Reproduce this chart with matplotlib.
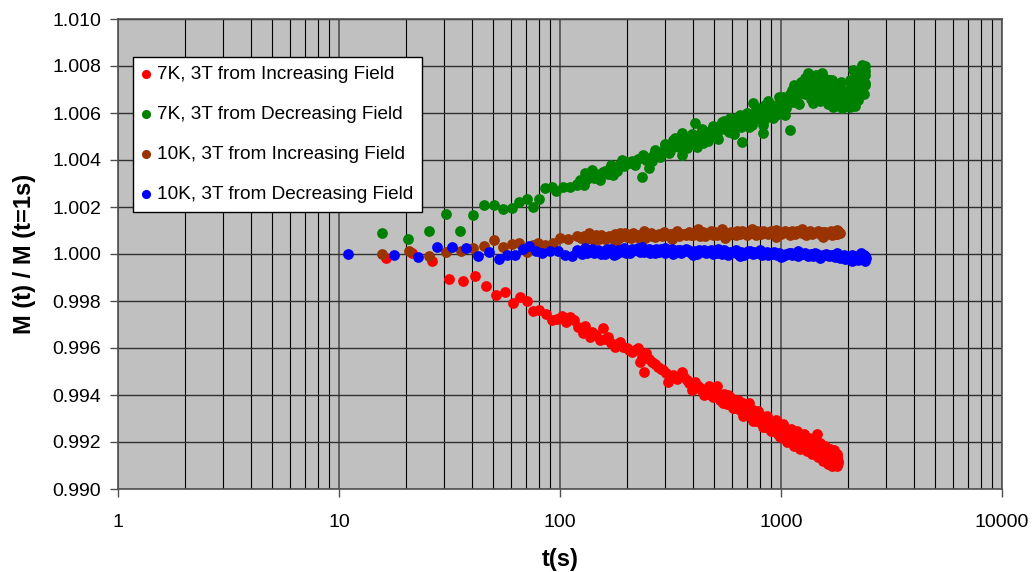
import matplotlib
matplotlib.use("Agg")
import matplotlib.pyplot as plt
from matplotlib.ticker import FixedLocator, LogLocator, NullFormatter, FuncFormatter

plt.rcParams['font.family'] = ['Liberation Sans', 'DejaVu Sans']

# ---------------- data ----------------
labels = ["7K, 3T from Increasing Field", "7K, 3T from Decreasing Field",
          "10K, 3T from Increasing Field", "10K, 3T from Decreasing Field"]
colors = ["#FF0000", "#008000", "#993300", "#0000FF"]

red_t = [16.4, 21.3, 26.4, 31.3, 36.3, 41.2, 46.3, 51.3, 56.4, 61.1, 65.9, 71.2, 75.7, 80.6,
         86.4, 91.7, 96.6, 101.8, 107, 111, 116, 121, 127, 130, 137, 139, 145, 152, 156, 160,
         165, 171, 177, 182, 187, 193, 200, 205, 211, 218, 226, 230, 235, 240, 245, 252, 260,
         268, 279, 286, 293, 301, 309, 317, 326, 340, 355, 365, 374, 385, 394, 408,
         420, 440, 460, 480, 500, 520, 540, 560, 580, 600, 620, 640, 660, 680, 700, 720, 740,
         760, 780, 800, 820, 840, 860, 880, 900, 920, 940, 960, 980, 1000, 1020, 1040, 1060,
         1080, 1100, 1120, 1140, 1160, 1180, 1200, 1220, 1240, 1280, 1300, 1320, 1340, 1360,
         1380, 1400, 1420, 1455, 1460, 1480, 1500, 1520, 1540, 1560, 1580, 1600, 1620, 1640,
         1660, 1680, 1700, 1720, 1740, 1760, 1780, 1800, 1810, 1700, 1650, 1760,
         430, 450, 470, 490, 510, 530, 550, 570, 590, 610, 630, 650, 670, 690, 710, 730, 750,
         770, 790, 810, 830, 850, 870, 890, 910, 930, 950, 970, 990, 1010, 1030, 1050, 1070,
         1090, 1110, 1130, 1150, 1170, 1190, 1210, 1230, 1250, 1270, 1290, 1310, 1330, 1350,
         1370, 1390, 1410, 1430, 1450, 1470, 1490, 1510, 1530, 1550, 1570, 1590, 1610, 1630,
         1650, 1670, 1690, 1710, 1730, 1750, 1770, 1790, 1805,
         515, 545, 575, 605, 640, 675, 715, 745, 785, 825, 865, 905, 945, 985, 1025, 1065,
         1105, 1145, 1185, 1225, 1265, 1305, 1345, 1385, 1425, 1465, 1505, 1545, 1585, 1625,
         1665, 1705, 1745, 1785, 1795]
red_m = [0.99984, 1.00003, 0.99970, 0.99895, 0.99886, 0.99906, 0.99865, 0.99826, 0.99840,
         0.99793, 0.99816, 0.99801, 0.99757, 0.99762, 0.99743, 0.99719, 0.99722, 0.99737,
         0.99712, 0.99730, 0.99719, 0.99691, 0.99663, 0.99694, 0.99648, 0.99669, 0.99655,
         0.99634, 0.99684, 0.99640, 0.99648, 0.99620, 0.99606, 0.99618, 0.99627, 0.99605,
         0.99599, 0.99590, 0.99584, 0.99592, 0.99599, 0.99542, 0.99560, 0.99499, 0.99577,
         0.99555, 0.99542, 0.99530, 0.99520, 0.99512, 0.99506, 0.99495, 0.99457, 0.99478,
         0.99485, 0.99470, 0.99499, 0.99475, 0.99464, 0.99450, 0.99421, 0.99457,
         0.99440, 0.99415, 0.99425, 0.99400, 0.99410, 0.99395, 0.99385, 0.99400, 0.99370,
         0.99375, 0.99360, 0.99350, 0.99355, 0.99335, 0.99340, 0.99320, 0.99330, 0.99310,
         0.99305, 0.99295, 0.99310, 0.99280, 0.99290, 0.99270, 0.99285, 0.99260, 0.99270,
         0.99250, 0.99265, 0.99245, 0.99255, 0.99240, 0.99250, 0.99225, 0.99240, 0.99220,
         0.99230, 0.99215, 0.99225, 0.99205, 0.99215, 0.99200, 0.99195, 0.99205, 0.99190,
         0.99200, 0.99175, 0.99190, 0.99170, 0.99185, 0.99234, 0.99165, 0.99175, 0.99160,
         0.99170, 0.99150, 0.99165, 0.99140, 0.99155, 0.99135, 0.99150, 0.99130, 0.99145,
         0.99120, 0.99140, 0.99115, 0.99135, 0.99125, 0.99140, 0.99120, 0.99110, 0.99125,
         0.99108,
         0.99430, 0.99400, 0.99440, 0.99390, 0.99420, 0.99380, 0.99405, 0.99360, 0.99390,
         0.99345, 0.99370, 0.99335, 0.99365, 0.99320, 0.99350, 0.99305, 0.99335, 0.99290,
         0.99320, 0.99280, 0.99300, 0.99265, 0.99295, 0.99255, 0.99275, 0.99245, 0.99280,
         0.99235, 0.99260, 0.99230, 0.99262, 0.99220, 0.99245, 0.99210, 0.99235, 0.99205,
         0.99240, 0.99195, 0.99228, 0.99190, 0.99222, 0.99180, 0.99212, 0.99178, 0.99210,
         0.99170, 0.99200, 0.99160, 0.99195, 0.99155, 0.99190, 0.99150, 0.99185, 0.99140,
         0.99180, 0.99135, 0.99172, 0.99125, 0.99165, 0.99120, 0.99160, 0.99112, 0.99155,
         0.99105, 0.99150, 0.99102, 0.99148, 0.99105, 0.99130, 0.99110,
         0.99440, 0.99365, 0.99400, 0.99345, 0.99380, 0.99312, 0.99365, 0.99290, 0.99330,
         0.99262, 0.99310, 0.99245, 0.99295, 0.99222, 0.99275, 0.99200, 0.99255, 0.99185,
         0.99245, 0.99172, 0.99235, 0.99160, 0.99215, 0.99150, 0.99205, 0.99135, 0.99195,
         0.99120, 0.99185, 0.99108, 0.99170, 0.99100, 0.99165, 0.99098, 0.99150]

green_t = [15.6, 20.6, 25.5, 30.5, 35.3, 40.5, 45.5, 50.5, 55.4, 60.5, 65.5, 70.7, 75.2, 80.3,
           85.5, 91.6, 95.9, 103, 111, 119, 123, 130, 139, 152, 157, 171, 174, 190, 207, 234,
           238, 254, 269, 283, 298, 326, 332, 355, 355, 408, 415, 445, 548, 588, 664, 750, 832,
           847, 1024, 1098, 1137, 1242, 1331, 1401, 1528, 1666, 1726, 1884, 2053, 2125, 2239,
           2318, 2399, 2125,
           120, 125, 128, 133, 136, 142, 146, 150, 155, 160, 165, 168, 178, 182, 186, 195, 200,
           212, 218, 225, 245, 250, 260, 265, 275, 290, 305, 312, 318, 340, 345, 362, 370, 380,
           390, 400, 420, 430, 452, 460, 470, 485, 495, 510, 520, 530, 560, 570, 600, 615, 630,
           645, 670, 690, 710, 730, 760, 780, 800, 820, 860, 880, 900, 930, 960, 990, 1050,
           1060, 1100, 1150, 1170, 1200, 1260, 1280, 1300, 1350, 1380, 1420, 1450, 1480, 1550,
           1580, 1620, 1680, 1700, 1750, 1800, 1850, 1900, 1950, 2000, 2050, 2100, 2150, 2180,
           2200, 2250, 2280, 2300, 2330, 2350, 2380, 2400, 2410,
           300, 315, 330, 350, 375, 395, 410, 440, 465, 490, 515, 540, 580, 620, 660, 700, 740,
           790, 840, 890, 950, 1000, 1030, 1080, 1120, 1180, 1230, 1320, 1400, 1460, 1520,
           1600, 1650, 1720, 1780, 1830, 1880, 1930, 1980, 2030, 2080, 2130, 2170, 2230, 2270,
           2320, 2360, 2390, 2405,
           520, 555, 610, 650, 720, 770, 830, 870, 920, 980, 1040, 1140, 1210, 1290, 1370,
           1440, 1500, 1560, 1640, 1700, 1760, 1860, 1960, 2060, 2160, 2260, 2340, 2380]
green_m = [1.00091, 1.00063, 1.00098, 1.00170, 1.00099, 1.00166, 1.00209, 1.00209, 1.00190,
           1.00197, 1.00223, 1.00233, 1.00199, 1.00234, 1.00280, 1.00284, 1.00269, 1.00284,
           1.00286, 1.00294, 1.00315, 1.00343, 1.00357, 1.00315, 1.00350, 1.00379, 1.00336,
           1.00400, 1.00386, 1.00329, 1.00421, 1.00365, 1.00443, 1.00414, 1.00464, 1.00485,
           1.00492, 1.00421, 1.00514, 1.00559, 1.00457, 1.00471, 1.00556, 1.00577, 1.00478,
           1.00641, 1.00514, 1.00634, 1.00669, 1.00528, 1.00648, 1.00726, 1.00769, 1.00641,
           1.00769, 1.00740, 1.00627, 1.00620, 1.00627, 1.00783, 1.00655, 1.00804, 1.00726,
           1.00740,
           1.00300, 1.00310, 1.00295, 1.00320, 1.00330, 1.00325, 1.00340, 1.00330, 1.00345,
           1.00355, 1.00340, 1.00365, 1.00370, 1.00355, 1.00385, 1.00375, 1.00390, 1.00395,
           1.00380, 1.00405, 1.00400, 1.00410, 1.00395, 1.00425, 1.00420, 1.00435, 1.00445,
           1.00430, 1.00460, 1.00470, 1.00455, 1.00480, 1.00465, 1.00490, 1.00475, 1.00500,
           1.00490, 1.00510, 1.00495, 1.00520, 1.00505, 1.00530, 1.00515, 1.00540, 1.00525,
           1.00545, 1.00530, 1.00555, 1.00545, 1.00560, 1.00540, 1.00570, 1.00555, 1.00580,
           1.00565, 1.00590, 1.00575, 1.00600, 1.00585, 1.00610, 1.00595, 1.00620, 1.00600,
           1.00630, 1.00610, 1.00640, 1.00620, 1.00650, 1.00680, 1.00670, 1.00700, 1.00690,
           1.00710, 1.00680, 1.00720, 1.00700, 1.00670, 1.00720, 1.00690, 1.00700, 1.00680,
           1.00710, 1.00660, 1.00700, 1.00660, 1.00690, 1.00650, 1.00680, 1.00640, 1.00670,
           1.00650, 1.00700, 1.00680, 1.00720, 1.00700, 1.00750, 1.00730, 1.00760, 1.00780,
           1.00740, 1.00770, 1.00790, 1.00760, 1.00800,
           1.00470, 1.00440, 1.00460, 1.00490, 1.00450, 1.00510, 1.00480, 1.00530, 1.00480,
           1.00545, 1.00500, 1.00560, 1.00520, 1.00575, 1.00540, 1.00600, 1.00550, 1.00620,
           1.00570, 1.00640, 1.00590, 1.00660, 1.00610, 1.00660, 1.00700, 1.00650, 1.00730,
           1.00690, 1.00740, 1.00660, 1.00730, 1.00690, 1.00740, 1.00680, 1.00720, 1.00660,
           1.00700, 1.00660, 1.00690, 1.00640, 1.00720, 1.00660, 1.00740, 1.00700, 1.00780,
           1.00760, 1.00800, 1.00720, 1.00780,
           1.00490, 1.00565, 1.00510, 1.00590, 1.00540, 1.00615, 1.00550, 1.00650, 1.00580,
           1.00670, 1.00590, 1.00720, 1.00640, 1.00750, 1.00660, 1.00760, 1.00650, 1.00750,
           1.00640, 1.00740, 1.00630, 1.00730, 1.00630, 1.00740, 1.00630, 1.00700, 1.00720,
           1.00680]

brown_t = [15.7, 20.7, 25.6, 30.5, 35.5, 40.5, 45.5, 50.5, 55.4, 60.5, 65.5, 70.7, 75.5, 79.6,
           85.5, 93, 100, 109, 119,
           125, 130, 135, 140, 146, 150, 156, 160, 166, 172, 178, 184, 190, 196, 203, 210, 216,
           222, 230, 238, 246, 255, 262, 270, 280, 290, 300, 310, 320, 332, 345, 358, 370, 385,
           400, 415, 430, 445, 460, 475, 490, 505, 520, 539, 555, 575, 595, 615, 635, 655, 680,
           705, 730, 755, 780, 810, 840, 870, 900, 930, 960, 1000, 1040, 1080, 1120, 1160,
           1200, 1250, 1300, 1350, 1400, 1450, 1500, 1550, 1600, 1650, 1700, 1750, 1800, 1840,
           128, 143, 153, 163, 175, 187, 200, 213, 226, 242, 258, 275, 295, 315, 338, 364, 392,
           422, 452, 482, 512, 547, 585, 625, 668, 718, 768, 825, 885, 945, 1020, 1100, 1180,
           1275, 1375, 1475, 1575, 1675, 1775, 1820,
           135, 180, 240, 320, 420, 560, 740, 950, 1250, 1550, 1800]
brown_m = [1.00000, 1.00014, 0.99993, 1.00010, 1.00013, 1.00024, 1.00034, 1.00060, 1.00031,
           1.00043, 1.00046, 1.00010, 1.00040, 1.00046, 1.00038, 1.00046, 1.00067, 1.00063,
           1.00077,
           1.00070, 1.00060, 1.00075, 1.00068, 1.00080, 1.00065, 1.00072, 1.00062, 1.00078,
           1.00070, 1.00085, 1.00068, 1.00075, 1.00090, 1.00078, 1.00068, 1.00082, 1.00074,
           1.00066, 1.00080, 1.00074, 1.00086, 1.00078, 1.00072, 1.00084, 1.00078, 1.00088,
           1.00076, 1.00082, 1.00090, 1.00078, 1.00085, 1.00080, 1.00092, 1.00082, 1.00088,
           1.00078, 1.00092, 1.00084, 1.00090, 1.00080, 1.00094, 1.00086, 1.00108, 1.00090,
           1.00082, 1.00094, 1.00086, 1.00096, 1.00084, 1.00092, 1.00082, 1.00096, 1.00088,
           1.00100, 1.00086, 1.00094, 1.00084, 1.00098, 1.00088, 1.00094, 1.00084, 1.00096,
           1.00088, 1.00100, 1.00086, 1.00094, 1.00090, 1.00082, 1.00096, 1.00088, 1.00092,
           1.00084, 1.00094, 1.00086, 1.00090, 1.00082, 1.00094, 1.00086, 1.00090,
           1.00078, 1.00058, 1.00082, 1.00070, 1.00062, 1.00090, 1.00072, 1.00088, 1.00080,
           1.00070, 1.00090, 1.00080, 1.00092, 1.00084, 1.00096, 1.00086, 1.00080, 1.00094,
           1.00076, 1.00096, 1.00080, 1.00098, 1.00090, 1.00080, 1.00098, 1.00090, 1.00080,
           1.00100, 1.00092, 1.00102, 1.00092, 1.00080, 1.00100, 1.00094, 1.00084, 1.00100,
           1.00092, 1.00098, 1.00084, 1.00096,
           1.00090, 1.00056, 1.00096, 1.00064, 1.00106, 1.00070, 1.00106, 1.00072, 1.00108,
           1.00074, 1.00104]

blue_t = [11, 17.7, 22.7, 27.7, 32.6, 37.6, 42.7, 47.7, 52.8, 57.7, 62.6, 67.8, 72.6, 77.9,
          82.6, 90.2, 98.3, 105, 113, 119,
          124, 128, 133, 138, 143, 148, 153, 158, 163, 168, 174, 180, 186, 192, 198, 205, 212,
          219, 226, 233, 240, 248, 256, 264, 272, 281, 290, 300, 310, 320, 330, 342, 354, 366,
          378, 390, 404, 418, 432, 446, 460, 476, 492, 508, 525, 542, 560, 578, 597, 616, 636,
          657, 678, 700, 722, 745, 770, 795, 820, 846, 873, 900, 930, 960, 990, 1020, 1055,
          1090, 1125, 1160, 1200, 1240, 1280, 1320, 1360, 1400, 1450, 1500, 1550, 1600, 1650,
          1700, 1750, 1800, 1850, 1900, 1950, 2000, 2050, 2100, 2150, 2200, 2250, 2300, 2350,
          2400, 2420,
          126, 140, 150, 160, 171, 183, 195, 208, 222, 236, 252, 268, 285, 305, 325, 348, 372,
          397, 425, 453, 484, 516, 551, 587, 626, 668, 711, 757, 808, 860, 915, 975, 1038,
          1108, 1180, 1260, 1340, 1425, 1525, 1625, 1725, 1825, 1925, 2025, 2125, 2225, 2275,
          2325, 2375, 2410,
          130, 175, 230, 300, 400, 520, 650, 800, 1000, 1200, 1500, 1800, 2100, 2300, 2390]
blue_m = [1.00000, 0.99996, 0.99989, 1.00028, 1.00031, 1.00024, 0.99990, 1.00007, 0.99980,
          0.99996, 0.99996, 1.00021, 1.00034, 1.00014, 1.00006, 1.00013, 1.00013, 0.99997,
          0.99991, 1.00017,
          1.00008, 1.00018, 1.00004, 1.00014, 1.00006, 1.00016, 1.00002, 1.00012, 1.00020,
          1.00008, 1.00014, 0.99998, 1.00010, 1.00018, 1.00006, 1.00014, 1.00022, 1.00016,
          1.00026, 1.00018, 1.00008, 1.00014, 1.00004, 1.00012, 1.00020, 1.00008, 1.00016,
          1.00006, 1.00014, 1.00020, 1.00008, 1.00016, 1.00004, 1.00012, 1.00018, 1.00006,
          1.00014, 1.00000, 1.00010, 1.00016, 1.00004, 1.00012, 0.99998, 1.00008, 1.00014,
          1.00002, 1.00010, 0.99996, 1.00006, 1.00012, 1.00000, 1.00008, 0.99996, 1.00006,
          1.00012, 0.99998, 1.00004, 1.00010, 0.99996, 1.00004, 0.99994, 1.00002, 1.00008,
          0.99996, 1.00002, 0.99992, 1.00000, 1.00006, 0.99994, 1.00002, 0.99990, 0.99998,
          1.00004, 0.99992, 1.00000, 0.99990, 0.99998, 0.99986, 0.99996, 1.00002, 0.99990,
          0.99996, 0.99986, 0.99994, 0.99984, 0.99992, 0.99980, 0.99990, 0.99984, 0.99994,
          0.99980, 0.99990, 0.99984, 0.99996, 0.99986, 0.99992, 0.99982,
          1.00000, 1.00022, 1.00010, 0.99998, 1.00020, 1.00016, 1.00024, 1.00004, 1.00020,
          1.00028, 1.00020, 1.00004, 1.00020, 1.00012, 0.99998, 1.00018, 1.00022, 1.00010,
          1.00018, 1.00008, 1.00018, 1.00004, 1.00016, 1.00010, 1.00016, 1.00004, 1.00012,
          1.00008, 1.00002, 1.00010, 0.99998, 1.00006, 0.99996, 1.00004, 0.99994, 1.00002,
          0.99996, 1.00004, 0.99992, 0.99996, 0.99994, 0.99986, 0.99996, 0.99978, 0.99986,
          0.99976, 0.99994, 0.99980, 0.99996, 0.99976,
          1.00026, 0.99994, 1.00008, 1.00026, 0.99994, 1.00022, 0.99990, 1.00018, 0.99988,
          1.00012, 0.99984, 1.00004, 0.99972, 1.00006, 0.99970]

xticks = [1, 10, 100, 1000, 10000]
xtick_labels = ["1", "10", "100", "1000", "10000"]
yticks = [0.990, 0.992, 0.994, 0.996, 0.998, 1.000, 1.002, 1.004, 1.006, 1.008, 1.010]

# ---------------- figure ----------------
fig = plt.figure(figsize=(10.34, 5.72), dpi=100)
ax = fig.add_axes([118/1034, 1 - 489/572, (1002-118)/1034, (489-19)/572])
ax.set_facecolor("#C0C0C0")
ax.set_xscale("log")
ax.set_xlim(1, 10000)
ax.set_ylim(0.990, 1.010)

series = [(red_t, red_m), (green_t, green_m), (brown_t, brown_m), (blue_t, blue_m)]
for (t, m), c, lab in zip(series, colors, labels):
    ax.scatter(t, m, s=60, c=c, linewidths=0, label=lab, zorder=3)

ax.xaxis.set_major_locator(FixedLocator(xticks))
ax.set_xticklabels(xtick_labels)
ax.xaxis.set_minor_locator(LogLocator(base=10, subs=range(2, 10)))
ax.xaxis.set_minor_formatter(NullFormatter())
ax.set_yticks(yticks)
ax.yaxis.set_major_formatter(FuncFormatter(lambda v, p: f"{v:.3f}"))

ax.grid(True, which="major", axis="x", color="#505050", linewidth=1.2, zorder=1)
ax.grid(True, which="minor", axis="x", color="black", linewidth=0.8, zorder=1)
ax.grid(True, which="major", axis="y", color="#303030", linewidth=1.0, zorder=1)
ax.set_axisbelow(True)

ax.tick_params(axis="both", which="major", labelsize=14, direction="out", length=6,
               width=1, color="#505050", pad=6)
ax.tick_params(axis="x", which="minor", length=0)
ax.tick_params(axis="x", which="major", pad=12)
for sp in ax.spines.values():
    sp.set_color("#505050")
    sp.set_linewidth(1.2)

ax.set_xlabel("t(s)", fontsize=17, fontweight="bold", labelpad=12)
ax.set_ylabel("M (t) / M (t=1s)", fontsize=17, fontweight="bold", labelpad=12)

leg = ax.legend(loc="upper left", bbox_to_anchor=(0.017, 0.919), fontsize=13.7,
                frameon=True, fancybox=False, edgecolor="black", facecolor="white",
                framealpha=1, markerscale=0.85, handlelength=0.5, handletextpad=0.3,
                labelspacing=1.2, borderpad=0.45, borderaxespad=0.0)
leg.get_frame().set_linewidth(1.0)

fig.savefig("out.png", dpi=100)
